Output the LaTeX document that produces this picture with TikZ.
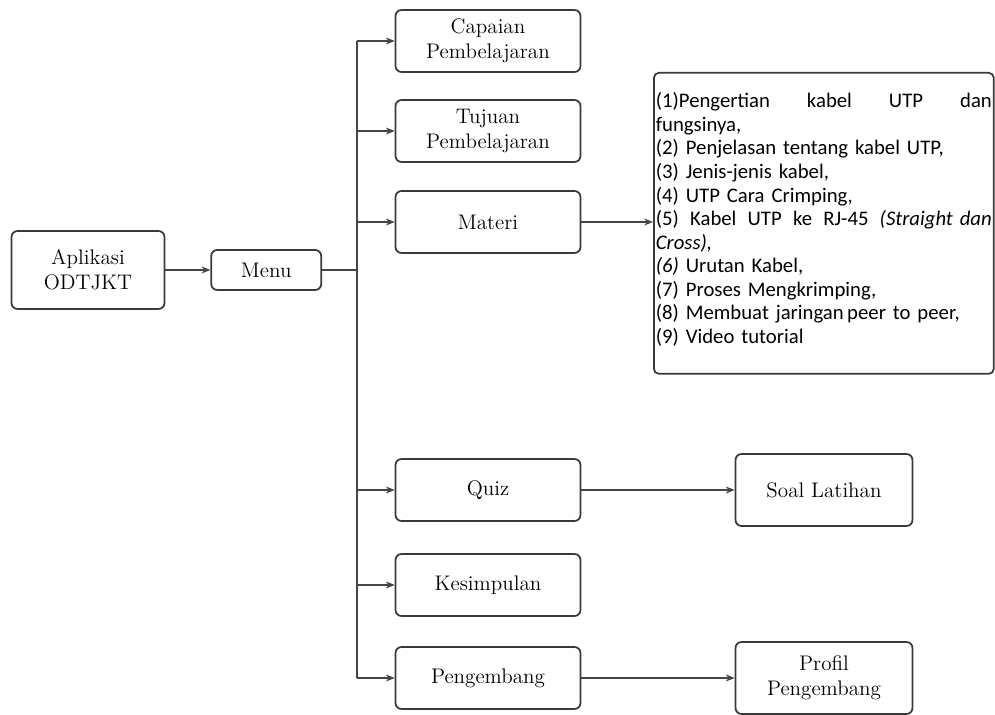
\documentclass[tikz,border=0pt]{standalone}
\usepackage{fontspec}
\newfontfamily\listfont{Carlito}
\usetikzlibrary{arrows.meta, positioning}
\definecolor{boxline}{HTML}{3A3A3A}
\definecolor{linkline}{HTML}{454545}

\begin{document}
\begin{tikzpicture}[x=0.02cm, y=-0.02cm,
  menubox/.style={rectangle, draw=boxline, line width=1pt, rounded corners=0.12cm, minimum width=3.7cm, minimum height=1.24cm, align=center, inner sep=2pt, font=\fontsize{12}{14.2}\selectfont},
  subbox/.style={menubox, minimum width=3.54cm, minimum height=1.44cm},
  listbox/.style={rectangle, draw=boxline, line width=1pt, rounded corners=0.1cm, text width=6.72cm, inner xsep=0.04cm, inner ysep=0pt, text height=0.7cm, text depth=5.32cm, align=left, font=\listfont\fontsize{11.8}{13.4}\selectfont},
  link/.style={draw=linkline, line width=0.6pt},
  arrow/.style={link, -{Stealth[length=5pt, width=4pt]}}
]
  \useasboundingbox (0,0) rectangle (995,715);

  \node[menubox, minimum width=3.06cm, minimum height=1.56cm] (app) at (88,270) {Aplikasi\\ODTJKT};
  \node[menubox, minimum width=2.2cm, minimum height=0.8cm, right=0.9cm of app] (menu) {Menu};

  \node[menubox] (capaian) at (488,41) {Capaian\\Pembelajaran};
  \node[menubox] (tujuan) at (488,131) {Tujuan\\Pembelajaran};
  \node[menubox] (materi) at (488,222) {Materi};
  \node[menubox] (quiz) at (488,490) {Quiz};
  \node[menubox] (kesimpulan) at (488,585) {Kesimpulan};
  \node[menubox] (pengembang) at (488,678) {Pengembang};

  \node[subbox] (soal) at (824,490) {Soal Latihan};
  \node[subbox] (profil) at (824,678) {Profil\\Pengembang};

  \node[listbox, anchor=north west] (isi) at (653,72) {%
    (1)Pengertian\hfill kabel\hfill UTP\hfill dan\\
    fungsinya,\\
    (2) Penjelasan tentang kabel UTP,\\
    (3) Jenis-jenis kabel,\\
    (4) UTP Cara Crimping,\\
    (5)\hfill Kabel\hfill UTP\hfill ke\hfill RJ-45\hfill \textit{(Straight dan}\\
    \textit{Cross),}\\
    \textit{(6)} Urutan Kabel,\\
    (7) Proses Mengkrimping,\\
    (8) Membuat jaringan\,peer to peer,\\
    (9) Video tutorial};

  % percabangan menu
  \coordinate (split) at (357,270);
  \draw[arrow] (app.east) -- (menu.west);
  \draw[link] (menu.east) -- (split);
  \draw[link] (split |- capaian.west) -- (split |- pengembang.west);
  \foreach \n in {capaian, tujuan, materi, quiz, kesimpulan, pengembang}
    \draw[arrow] (split |- \n.west) -- (\n.west);

  \draw[arrow] (materi.east) -- (materi.east -| isi.west);
  \draw[arrow] (quiz.east) -- (soal.west);
  \draw[arrow] (pengembang.east) -- (profil.west);
\end{tikzpicture}
\end{document}
